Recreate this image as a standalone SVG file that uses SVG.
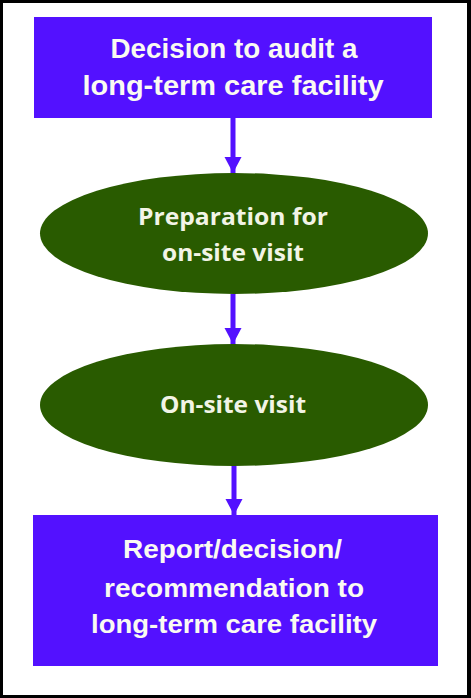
<svg xmlns="http://www.w3.org/2000/svg" width="471" height="698" viewBox="0 0 471 698">
  <defs>
    <style>
      .box { fill: #5311FF; }
      .oval { fill: #295B00; }
      .t { fill: #FAFAF2; font-family: "Liberation Sans", Arial, sans-serif; font-weight: bold; text-anchor: middle; }
      .te { fill: #F2F4E6; font-family: "Open Sans", "DejaVu Sans", sans-serif; font-weight: bold; text-anchor: middle; }
      .conn { stroke: #5311FF; stroke-width: 5; fill: none; }
    </style>
    <marker id="ah" markerUnits="userSpaceOnUse" markerWidth="18" markerHeight="18" refX="16" refY="8.5" orient="auto">
      <path d="M0,0 L16,8.5 L0,17 Z" fill="#5311FF"/>
    </marker>
  </defs>
  <rect x="0" y="0" width="471" height="698" fill="#000"/>
  <rect x="3" y="3" width="464" height="692" fill="#fff"/>

  <g id="connectors">
    <line class="conn" x1="233" y1="118" x2="233" y2="173" marker-end="url(#ah)"/>
    <line class="conn" x1="233" y1="294" x2="233" y2="344" marker-end="url(#ah)"/>
    <line class="conn" x1="234" y1="466" x2="234" y2="515" marker-end="url(#ah)"/>
  </g>

  <g id="node-decision">
    <rect class="box" x="34" y="17" width="398" height="101"/>
    <text class="t" x="234" y="58" font-size="27" textLength="247" lengthAdjust="spacingAndGlyphs">Decision to audit a</text>
    <text class="t" x="233" y="95" font-size="27" textLength="301" lengthAdjust="spacingAndGlyphs">long-term care facility</text>
  </g>

  <g id="node-preparation">
    <ellipse class="oval" cx="234" cy="233.5" rx="194" ry="60.5"/>
    <text class="te" x="233" y="225" font-size="24" textLength="190" lengthAdjust="spacingAndGlyphs">Preparation for</text>
    <text class="te" x="233" y="261" font-size="24" textLength="142" lengthAdjust="spacingAndGlyphs">on-site visit</text>
  </g>

  <g id="node-onsite">
    <ellipse class="oval" cx="234" cy="405" rx="194" ry="61"/>
    <text class="te" x="233" y="413" font-size="24" textLength="146" lengthAdjust="spacingAndGlyphs">On-site visit</text>
  </g>

  <g id="node-report">
    <rect class="box" x="33" y="515" width="405" height="151"/>
    <text class="t" x="232.5" y="558" font-size="26" textLength="219" lengthAdjust="spacingAndGlyphs">Report/decision/</text>
    <text class="t" x="234" y="597" font-size="26" textLength="260" lengthAdjust="spacingAndGlyphs">recommendation to</text>
    <text class="t" x="234" y="633" font-size="26" textLength="286" lengthAdjust="spacingAndGlyphs">long-term care facility</text>
  </g>
</svg>
